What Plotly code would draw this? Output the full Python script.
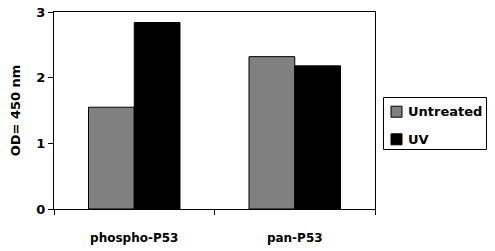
import plotly.graph_objects as go

categories = ["phospho-P53", "pan-P53"]
series_names = ["Untreated", "UV"]
untreated = [1.55, 2.32]
uv = [2.84, 2.18]
colors = ["#808080", "#000000"]
y_ticks = [0, 1, 2, 3]

font_family = "DejaVu Sans"

fig = go.Figure()
for name, vals, col in zip(series_names, [untreated, uv], colors):
    fig.add_trace(go.Bar(name=name, x=categories, y=vals,
                         marker=dict(color=col, line=dict(color="black", width=1))))

# Plot area: l=54, width=321 ; b=42, height=197
L, W, B, H, HT = 54, 321, 42, 197, 251
def px(x):
    return (x - L) / W
def py(y):
    return (HT - B - y) / H

shapes = [dict(type="rect", xref="paper", yref="paper",
               x0=px(383.5), x1=px(486.5), y0=py(149.5), y1=py(97.5),
               line=dict(color="black", width=1), fillcolor="white")]
annotations = []
for i, (name, col) in enumerate(zip(series_names, colors)):
    cy = [111.7, 139.3][i]
    shapes.append(dict(type="rect", xref="paper", yref="paper",
                       x0=px(391), x1=px(402), y0=py(cy + 5.5), y1=py(cy - 5.5),
                       line=dict(color="black", width=1), fillcolor=col))
    annotations.append(dict(text=name, xref="paper", yref="paper",
                            x=px(406), y=py(cy), xanchor="left", yanchor="middle",
                            showarrow=False,
                            font=dict(family=font_family, size=13, color="black", weight="bold")))

fig.update_layout(
    width=495, height=251,
    margin=dict(l=54, r=120, t=12, b=42, autoexpand=False),
    paper_bgcolor="white", plot_bgcolor="white",
    barmode="group", bargap=0.43, bargroupgap=0,
    font=dict(family=font_family, size=12, color="black"),
    showlegend=False,
    shapes=shapes, annotations=annotations,
)
fig.update_xaxes(
    showline=True, linecolor="black", linewidth=1, mirror=True,
    ticks="outside", ticklen=5, tickcolor="black", tickson="boundaries",
    ticklabelstandoff=18,
    tickfont=dict(family=font_family, size=12, color="black", weight="bold"),
    showgrid=False,
)
fig.update_yaxes(
    range=[0, 3], tickvals=y_ticks,
    showline=True, linecolor="black", linewidth=1, mirror=True,
    ticks="outside", ticklen=5, tickcolor="black",
    tickfont=dict(family=font_family, size=13, color="black", weight="bold"),
    showgrid=False, zeroline=False,
    title=dict(text="OD= 450 nm", standoff=12,
               font=dict(family=font_family, size=13, color="black", weight="bold")),
)

fig.write_html("out.html")
